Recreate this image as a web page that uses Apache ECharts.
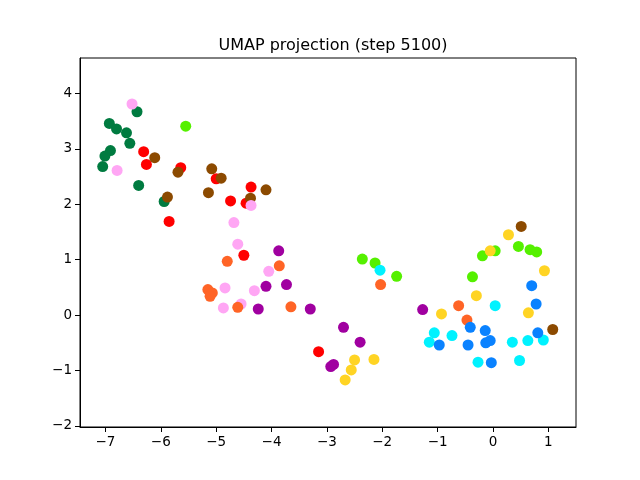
<!DOCTYPE html>
<html>
<head>
<meta charset="utf-8">
<script src="https://cdn.jsdelivr.net/npm/echarts@6/dist/echarts.min.js"></script>
<style>
  html, body { margin: 0; padding: 0; background: #fff; }
  #chart { width: 640px; height: 480px; }
</style>
</head>
<body>
<div id="chart"></div>
<script>
// points per cluster
var darkGreen = [[-6.43, 3.67], [-6.93, 3.46], [-6.80, 3.36], [-6.62, 3.29], [-6.56, 3.10],
                 [-6.91, 2.97], [-7.01, 2.87], [-7.05, 2.68], [-6.40, 2.34], [-5.94, 2.05]];
var red = [[-6.31, 2.95], [-6.26, 2.72], [-5.64, 2.66], [-5.00, 2.46], [-4.74, 2.06],
           [-4.46, 2.02], [-4.37, 2.31], [-5.85, 1.69], [-4.50, 1.08], [-3.15, -0.66]];
var brown = [[-6.11, 2.84], [-5.69, 2.58], [-5.08, 2.64], [-4.91, 2.47], [-5.14, 2.21],
             [-4.38, 2.11], [-5.88, 2.13], [-4.10, 2.26], [0.51, 1.60], [1.08, -0.26]];
var pink = [[-6.52, 3.81], [-6.79, 2.61], [-4.37, 1.98], [-4.68, 1.67], [-4.61, 1.28],
            [-4.05, 0.79], [-4.84, 0.49], [-4.31, 0.44], [-4.87, 0.13], [-4.55, 0.20]];
var green = [[-5.55, 3.41], [-2.36, 1.01], [-2.13, 0.94], [-1.74, 0.70], [0.46, 1.24],
             [0.67, 1.18], [0.79, 1.14], [0.04, 1.16], [-0.19, 1.07], [-0.37, 0.69]];
var orange = [[-4.80, 0.97], [-3.86, 0.89], [-5.15, 0.46], [-5.07, 0.40], [-5.11, 0.34],
              [-4.61, 0.14], [-3.65, 0.15], [-2.03, 0.55], [-0.62, 0.17], [-0.47, -0.09]];
var purple = [[-3.87, 1.16], [-4.10, 0.52], [-3.73, 0.55], [-4.24, 0.11], [-3.30, 0.11],
              [-1.27, 0.10], [-2.70, -0.22], [-2.40, -0.49], [-2.88, -0.89], [-2.93, -0.93]];
var yellow = [[-2.50, -0.81], [-2.15, -0.80], [-2.56, -0.99], [-2.67, -1.17], [0.28, 1.45],
              [-0.05, 1.16], [0.93, 0.80], [-0.30, 0.35], [-0.93, 0.02], [0.64, 0.04]];
var cyan = [[-2.04, 0.81], [0.04, 0.17], [-1.06, -0.32], [-0.74, -0.37], [-1.15, -0.49],
            [0.35, -0.49], [0.63, -0.46], [0.91, -0.45], [-0.27, -0.85], [0.48, -0.82]];
var blue = [[0.70, 0.53], [0.78, 0.20], [-0.41, -0.22], [-0.14, -0.28], [0.81, -0.32],
            [-0.97, -0.54], [-0.45, -0.54], [-0.13, -0.50], [-0.05, -0.46], [-0.03, -0.86]];

var xTicks = [-7, -6, -5, -4, -3, -2, -1, 0, 1];
var yTicks = [-2, -1, 0, 1, 2, 3, 4];

var groups = [darkGreen, red, brown, pink, green, orange, purple, yellow, cyan, blue];
var colors = ['#007b40', '#ff0000', '#8c4a00', '#ffa6f4', '#55f000',
              '#ff6426', '#a000a0', '#ffd424', '#00f2ff', '#0a82ff'];

var font = 'DejaVu Sans';
var minus = function (v) { return String(v).replace('-', '\u2212'); };

var series = groups.map(function (g, i) {
    return {
        type: 'scatter',
        data: g,
        symbolSize: 11,
        itemStyle: { color: colors[i], opacity: 1 },
        silent: true
    };
});

var chart = echarts.init(document.getElementById('chart'));
chart.setOption({
    animation: false,
    backgroundColor: '#fff',
    title: {
        text: 'UMAP projection (step 5100)',
        left: 328,
        top: 33,
        textAlign: 'center',
        textStyle: { fontFamily: font, fontSize: 16, fontWeight: 'normal', color: '#000' }
    },
    grid: {
        left: 80, right: 64, top: 58, bottom: 53,
        show: true, borderColor: '#000', borderWidth: 1, backgroundColor: 'transparent'
    },
    xAxis: {
        type: 'value',
        min: -7.46, max: 1.50,
        splitLine: { show: false },
        axisLine: { show: true, onZero: false, lineStyle: { color: '#000' } },
        axisTick: { show: true, length: 5, customValues: xTicks, lineStyle: { color: '#000' } },
        axisLabel: {
            customValues: xTicks, margin: 8, color: '#000',
            fontFamily: font, fontSize: 13.5, formatter: minus
        }
    },
    yAxis: {
        type: 'value',
        min: -2.02, max: 4.64,
        splitLine: { show: false },
        axisLine: { show: true, onZero: false, lineStyle: { color: '#000' } },
        axisTick: { show: true, length: 5, customValues: yTicks, lineStyle: { color: '#000' } },
        axisLabel: {
            customValues: yTicks, margin: 8, color: '#000',
            fontFamily: font, fontSize: 13.5, formatter: minus
        }
    },
    series: series
});
</script>
</body>
</html>
